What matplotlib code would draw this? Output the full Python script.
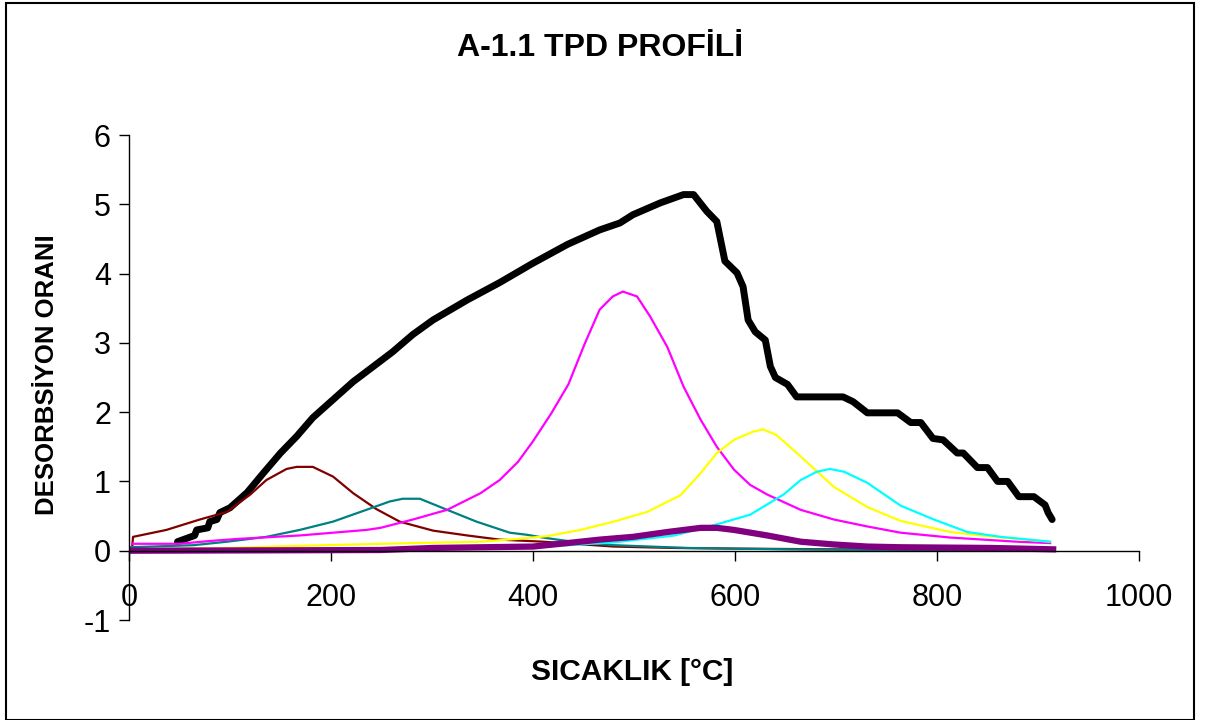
import matplotlib
matplotlib.use("Agg")
import matplotlib.pyplot as plt
from matplotlib.patches import Rectangle

plt.rcParams["font.family"] = ["Liberation Sans", "DejaVu Sans"]
plt.rcParams["axes.unicode_minus"] = False

# measured TPD profile (black)
black_x = [48, 65, 67, 78, 80, 87, 90, 100, 117, 133, 150, 166, 182, 202, 222, 242, 261,
           281, 301, 335, 367, 400, 434, 466, 486, 499, 526, 549, 559, 572, 582, 590, 602,
           608, 613, 620, 630, 635, 640, 652, 661, 707, 717, 731, 761, 774, 784, 796, 806,
           820, 826, 840, 850, 860, 870, 881, 896, 907, 910, 914]
black_y = [0.13, 0.22, 0.30, 0.33, 0.42, 0.45, 0.55, 0.62, 0.84, 1.12, 1.41, 1.65, 1.92,
           2.18, 2.44, 2.66, 2.87, 3.12, 3.33, 3.62, 3.87, 4.15, 4.42, 4.63, 4.73, 4.85,
           5.02, 5.14, 5.14, 4.90, 4.75, 4.18, 4.01, 3.81, 3.33, 3.16, 3.04, 2.66, 2.50,
           2.40, 2.22, 2.22, 2.15, 1.99, 1.99, 1.85, 1.85, 1.62, 1.60, 1.41, 1.41, 1.20,
           1.20, 1.00, 1.00, 0.78, 0.78, 0.66, 0.55, 0.45]

# deconvoluted peaks
red_x = [3, 4, 37, 70, 97, 120, 136, 156, 166, 182, 202, 222, 245, 268, 301, 335, 367,
         410, 480, 539, 600, 700, 800, 912]
red_y = [0.02, 0.20, 0.30, 0.45, 0.56, 0.81, 1.02, 1.18, 1.21, 1.21, 1.07, 0.83, 0.60,
         0.42, 0.29, 0.22, 0.16, 0.13, 0.06, 0.04, 0.03, 0.02, 0.02, 0.01]

teal_x = [1, 64, 97, 136, 169, 202, 235, 258, 271, 288, 315, 344, 377, 394, 410, 424,
          440, 480, 552, 650, 750, 912]
teal_y = [0.05, 0.08, 0.13, 0.20, 0.30, 0.42, 0.59, 0.71, 0.75, 0.75, 0.59, 0.42, 0.26,
          0.23, 0.19, 0.16, 0.13, 0.08, 0.04, 0.02, 0.01, 0.01]

magenta_x = [3, 50, 80, 107, 169, 235, 249, 281, 315, 348, 367, 385, 400, 418, 435, 451,
             466, 479, 489, 503, 516, 533, 549, 566, 582, 599, 615, 632, 665, 698, 731,
             764, 813, 879, 912]
magenta_y = [0.10, 0.10, 0.14, 0.17, 0.22, 0.30, 0.33, 0.45, 0.59, 0.83, 1.02, 1.28, 1.58,
             1.98, 2.40, 2.98, 3.48, 3.67, 3.74, 3.67, 3.38, 2.94, 2.37, 1.89, 1.50, 1.17,
             0.95, 0.81, 0.59, 0.45, 0.35, 0.26, 0.19, 0.13, 0.11]

yellow_x = [3, 100, 166, 281, 348, 384, 414, 447, 480, 513, 546, 566, 582, 599, 618, 628,
            641, 665, 698, 731, 764, 813, 863, 912]
yellow_y = [0.02, 0.04, 0.07, 0.11, 0.13, 0.17, 0.21, 0.30, 0.42, 0.56, 0.80, 1.12, 1.41,
            1.60, 1.72, 1.75, 1.67, 1.36, 0.92, 0.63, 0.43, 0.27, 0.19, 0.13]

cyan_x = [3, 200, 300, 400, 480, 540, 582, 615, 648, 665, 681, 694, 708, 731, 764, 797,
          830, 863, 912]
cyan_y = [0.00, 0.01, 0.02, 0.05, 0.12, 0.22, 0.38, 0.52, 0.81, 1.02, 1.14, 1.18, 1.14,
          0.98, 0.65, 0.45, 0.27, 0.20, 0.13]

purple_x = [3, 249, 301, 400, 434, 466, 499, 533, 566, 582, 599, 632, 665, 698, 731, 764,
            853, 915]
purple_y = [0.00, 0.01, 0.04, 0.06, 0.11, 0.16, 0.20, 0.27, 0.33, 0.33, 0.30, 0.22, 0.13,
            0.09, 0.06, 0.05, 0.04, 0.02]

x_ticks = [0, 200, 400, 600, 800, 1000]
y_ticks = [-1, 0, 1, 2, 3, 4, 5, 6]

fig = plt.figure(figsize=(12.16, 7.2), dpi=100)
ax = fig.add_axes([129 / 1216, 1 - 620 / 720, 1010 / 1216, 485 / 720])

ax.plot(black_x, black_y, color="black", lw=5, solid_capstyle="round", solid_joinstyle="round")
ax.plot(red_x, red_y, color="#800000", lw=1.6)
ax.plot(teal_x, teal_y, color="#008080", lw=1.6)
ax.plot(magenta_x, magenta_y, color="#FF00FF", lw=1.6)
ax.plot(yellow_x, yellow_y, color="#FFFF00", lw=1.6)
ax.plot(cyan_x, cyan_y, color="#00FFFF", lw=1.6)
ax.plot(purple_x, purple_y, color="#800080", lw=4.5)

ax.set_xlim(0, 1000)
ax.set_ylim(-1, 6)
ax.set_xticks(x_ticks)
ax.set_yticks(y_ticks)

ax.spines["top"].set_visible(False)
ax.spines["right"].set_visible(False)
ax.spines["bottom"].set_position(("data", 0))
ax.spines["left"].set_linewidth(1.0)
ax.spines["bottom"].set_linewidth(1.0)
ax.tick_params(axis="both", direction="out", length=7, width=1.0, labelsize=22)
ax.tick_params(axis="x", pad=16)
ax.tick_params(axis="y", pad=6)

fig.text(600 / 1216, 1 - 48 / 720, "A-1.1 TPD PROFİLİ", ha="center", va="center",
         fontsize=23, fontweight="bold")
fig.text(632 / 1216, 1 - 672 / 720, "SICAKLIK [°C]", ha="center", va="center",
         fontsize=21.5, fontweight="bold")
fig.text(47 / 1216, 1 - 375 / 720, "DESORBSİYON ORANI", ha="center", va="center",
         rotation=90, fontsize=18.5, fontweight="bold")

fig.patches.append(Rectangle((6 / 1216, 0), 1188 / 1216, 717 / 720, transform=fig.transFigure,
                             fill=False, edgecolor="black", lw=1.5))

fig.savefig("out.png", dpi=100)
